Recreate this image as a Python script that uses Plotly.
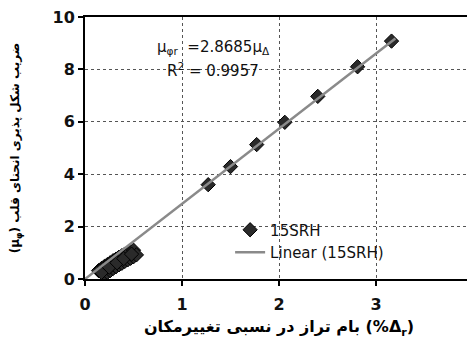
import plotly.graph_objects as go

# ---- data ----
drift_pts = [1.27, 1.50, 1.77, 2.06, 2.40, 2.81, 3.16]
duct_pts = [3.60, 4.29, 5.13, 5.98, 6.97, 8.10, 9.08]
drift_low = [0.14, 0.17, 0.20, 0.23, 0.26, 0.29, 0.32, 0.35, 0.38, 0.41, 0.44, 0.47, 0.50,
             0.20, 0.23, 0.26, 0.29, 0.32, 0.35, 0.38, 0.41, 0.44, 0.47, 0.50, 0.53,
             0.17, 0.25, 0.33, 0.40, 0.48]
duct_low = [0.32, 0.40, 0.48, 0.55, 0.62, 0.70, 0.76, 0.83, 0.89, 0.95, 1.00, 1.05, 1.10,
            0.18, 0.25, 0.32, 0.40, 0.47, 0.54, 0.60, 0.67, 0.73, 0.79, 0.85, 0.92,
            0.25, 0.45, 0.62, 0.78, 0.95]
slope = 2.8685
r2 = 0.9957
trend_x = [0.0, 3.2]
x_ticks = [0, 1, 2, 3, 4]
y_ticks = [0, 2, 4, 6, 8, 10]

LRM = "\u200e"
LRE = "\u202a"
PDF = "\u202c"
x_words = ["تغییرمکان", "نسبی", "در", "تراز", "بام"]
x_title = LRM + LRE + (LRM + " ").join(x_words) + LRM + " (%Δ<sub>r</sub>)" + PDF
y_title = "(μ<sub>φ</sub>) ضریب شکل پذیری انحنای قلب"

all_x = drift_low + drift_pts
all_y = duct_low + duct_pts
trend_y = [slope * v for v in trend_x]

fig = go.Figure()
fig.add_trace(go.Scatter(
    x=all_x, y=all_y, mode="markers", name="15SRH",
    marker=dict(symbol="diamond", size=11, color="#2a2a2a",
                line=dict(color="#000000", width=1)),
))
fig.add_trace(go.Scatter(
    x=trend_x, y=trend_y, mode="lines", name="Linear (15SRH)",
    line=dict(color="#8a8a8a", width=2.5),
))

fig.add_shape(type="rect", xref="paper", yref="paper",
              x0=0.258, x1=0.907, y0=0.061, y1=0.252,
              fillcolor="white", line=dict(width=0), layer="between")

ann_font = dict(family="DejaVu Sans", size=15, color="#111")
fig.add_annotation(x=0.33, y=0.885, xref="paper", yref="paper", xanchor="center", yanchor="middle",
                   text="μ<sub>φr</sub>  =%.4fμ<sub>Δ</sub>" % slope, showarrow=False, font=ann_font)
fig.add_annotation(x=0.33, y=0.797, xref="paper", yref="paper", xanchor="center", yanchor="middle",
                   text="R<sup>2</sup> = %.4f" % r2, showarrow=False, font=ann_font)

axis_common = dict(
    showline=True, linecolor="#000", linewidth=2, mirror=True,
    ticks="outside", ticklen=5, tickcolor="#000", tickwidth=1.5,
    showgrid=True, gridcolor="#555", griddash="dot", gridwidth=1,
    zeroline=False, automargin=False, ticklabeloverflow="allow",
    tickfont=dict(family="DejaVu Sans", size=16, color="#111", weight="bold"),
)

fig.update_xaxes(range=[0, 4], tickvals=x_ticks, ticklabelstandoff=5, **axis_common,
                 title=dict(text=x_title, standoff=8,
                            font=dict(family="DejaVu Sans", size=16, color="#000", weight="bold")))
fig.update_yaxes(range=[0, 10], tickvals=y_ticks, **axis_common,
                 title=dict(text=y_title, standoff=41,
                            font=dict(family="DejaVu Sans", size=12, color="#000", weight="bold")))

# page body has an 8px margin, so the figure is sized to the remaining window
fig.update_layout(
    width=467, height=331,
    margin=dict(l=77, r=2, t=9, b=60),
    paper_bgcolor="white", plot_bgcolor="white",
    showlegend=True,
    legend=dict(x=0.374, y=0.25, xanchor="left", yanchor="top",
                bgcolor="rgba(0,0,0,0)", borderwidth=0,
                font=dict(family="DejaVu Sans", size=15, color="#111"),
                tracegroupgap=0, itemwidth=30),
)

fig.write_html("out.html")
